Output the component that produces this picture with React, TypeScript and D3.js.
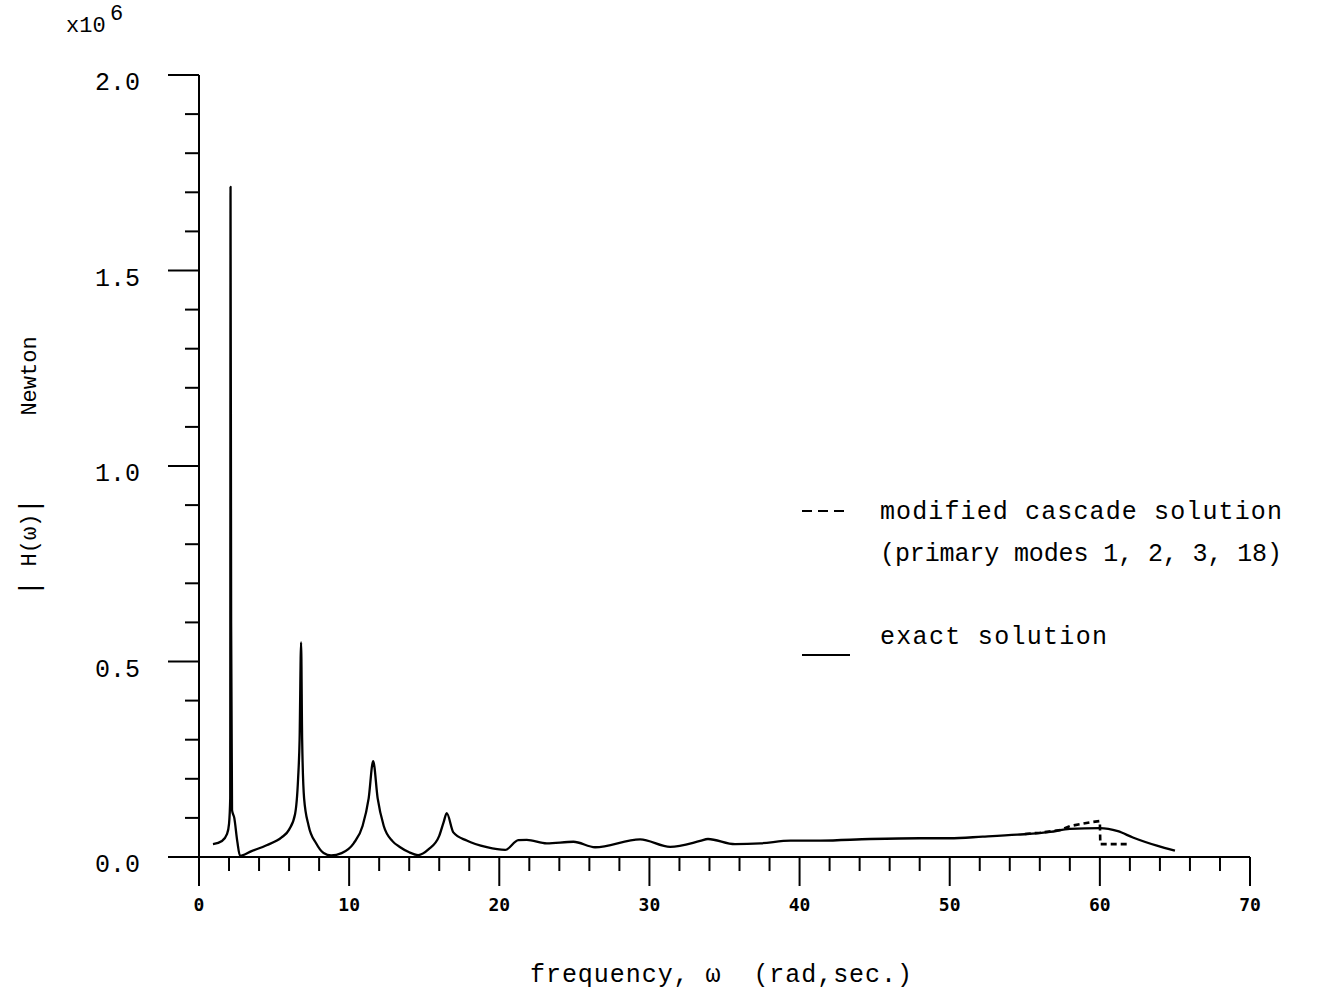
import React from "react";
import * as d3 from "d3";

const exactOmega = [0.93, 1.53, 1.87, 2.0, 2.08, 2.1, 2.14, 2.2, 2.35, 2.55, 2.73, 3.5, 4.5, 5.5, 6.0, 6.4, 6.6, 6.7, 6.8, 6.87, 7.0, 7.3, 7.8, 8.3, 8.8, 9.5, 10.3, 10.9, 11.3, 11.6, 11.9, 12.3, 12.9, 13.4, 14.0, 14.6, 15.3, 16.0, 16.3, 16.5, 16.94, 17.83, 19.17, 20.39, 21.27, 21.83, 23.16, 24.94, 26.38, 29.38, 31.38, 33.38, 33.9, 35.7, 37.4, 39.4, 41.4, 44.7, 48.0, 50.0, 52.2, 54.5, 56.7, 58.0, 60.0, 61.2, 62.2, 63.8, 65.0];
const exactH = [0.033, 0.041, 0.059, 0.085, 0.15, 1.714, 0.6, 0.12, 0.1, 0.04, 0.003, 0.015, 0.03, 0.05, 0.07, 0.11, 0.2, 0.3, 0.549, 0.3, 0.15, 0.08, 0.035, 0.01, 0.004, 0.01, 0.035, 0.08, 0.15, 0.245, 0.15, 0.08, 0.04, 0.025, 0.012, 0.005, 0.02, 0.054, 0.09, 0.112, 0.063, 0.042, 0.025, 0.018, 0.043, 0.044, 0.035, 0.039, 0.025, 0.045, 0.026, 0.041, 0.046, 0.033, 0.035, 0.042, 0.042, 0.046, 0.048, 0.048, 0.052, 0.057, 0.064, 0.072, 0.074, 0.066, 0.05, 0.029, 0.016];

const cascadeOmega = [55.0, 56.0, 57.4, 58.0, 59.4, 60.0, 60.03, 61.8];
const cascadeH = [0.059, 0.062, 0.069, 0.079, 0.089, 0.092, 0.033, 0.033];

const xTickLabels = ["0", "10", "20", "30", "40", "50", "60", "70"];
const yTickLabels = ["0.0", "0.5", "1.0", "1.5", "2.0"];

const W = 1330;
const H = 992;

export default function App() {
  const x = d3.scaleLinear().domain([0, 70]).range([199, 1250]);
  const y = d3.scaleLinear().domain([0, 2]).range([857, 75]);

  const exact = exactOmega.map((o, i) => [o, exactH[i]] as [number, number]);
  const cascade = cascadeOmega.map((o, i) => [o, cascadeH[i]] as [number, number]);

  const lineMono = d3
    .line<[number, number]>()
    .x((d) => x(d[0]))
    .y((d) => y(d[1]))
    .curve(d3.curveMonotoneX);
  const lineLin = d3
    .line<[number, number]>()
    .x((d) => x(d[0]))
    .y((d) => y(d[1]));

  const xMinor = d3.range(0, 71, 2);
  const yMinor = d3.range(0, 20.01, 1).map((v) => v / 10);

  const mono = "'Liberation Mono', 'DejaVu Sans Mono', monospace";
  const tickFont = "'DejaVu Sans Mono', monospace";

  return (
    <svg
      width={W}
      height={H}
      style={{ position: "absolute", left: 0, top: 0, background: "#fff" }}
    >
      <rect x={0} y={0} width={W} height={H} fill="#fff" />
      {/* axes */}
      <line x1={x(0)} x2={x(70)} y1={y(0)} y2={y(0)} stroke="#000" strokeWidth={2} />
      <line x1={x(0)} x2={x(0)} y1={y(2)} y2={y(0)} stroke="#000" strokeWidth={2} />
      {/* x ticks */}
      {xMinor.map((v) => {
        const major = v % 10 === 0;
        return (
          <line
            key={"xt" + v}
            x1={x(v)}
            x2={x(v)}
            y1={y(0)}
            y2={y(0) + (major ? 29 : 14)}
            stroke="#000"
            strokeWidth={2}
          />
        );
      })}
      {xTickLabels.map((t) => (
        <text
          key={"xl" + t}
          x={x(+t)}
          y={911}
          textAnchor="middle"
          fontFamily={tickFont}
          fontWeight="bold"
          fontSize={18}
        >
          {t}
        </text>
      ))}
      {/* y ticks */}
      {yMinor.map((v) => {
        const major = Math.round(v * 10) % 5 === 0;
        return (
          <line
            key={"yt" + v}
            x1={x(0) - (major ? 31 : 14)}
            x2={x(0)}
            y1={y(v)}
            y2={y(v)}
            stroke="#000"
            strokeWidth={2}
          />
        );
      })}
      {yTickLabels.map((t) => (
        <text
          key={"yl" + t}
          x={140}
          y={y(+t) + 15}
          textAnchor="end"
          fontFamily={mono}
          fontSize={25}
        >
          {t}
        </text>
      ))}
      {/* exponent */}
      <text x={66} y={32} fontFamily={mono} fontSize={22}>
        x10
      </text>
      <text x={110} y={20} fontFamily={mono} fontSize={22}>
        6
      </text>
      {/* y label */}
      <g transform="translate(36,0) rotate(-90)" fontFamily={mono} fontSize={22}>
        <text x={-376} y={0} textAnchor="middle">Newton</text>
        <text x={-540} y={0} textAnchor="middle">H(ω)</text>
        <text x={-506} y={2} textAnchor="middle" fontSize={28}>|</text>
        <text x={-588} y={2} textAnchor="middle" fontSize={28}>|</text>
      </g>
      {/* x label */}
      <text x={530} y={982} fontFamily={mono} fontSize={25} textLength={382} lengthAdjust="spacing" xmlSpace="preserve">
        {"frequency, ω  (rad,sec.)"}
      </text>
      {/* curves */}
      <path d={lineMono(exact) || ""} fill="none" stroke="#000" strokeWidth={2.3} strokeLinejoin="round" />
      <path
        d={lineLin(cascade) || ""}
        fill="none"
        stroke="#000"
        strokeWidth={2.6}
        strokeDasharray="6,4"
      />
      {/* legend */}
      <line x1={802} x2={848} y1={511} y2={511} stroke="#000" strokeWidth={2} strokeDasharray="10,6" />
      <text x={880} y={519} fontFamily={mono} fontSize={25} textLength={402} lengthAdjust="spacing">
        modified cascade solution
      </text>
      <text x={880} y={561} fontFamily={mono} fontSize={25} textLength={402} lengthAdjust="spacing">
        (primary modes 1, 2, 3, 18)
      </text>
      <line x1={802} x2={850} y1={655} y2={655} stroke="#000" strokeWidth={2} />
      <text x={880} y={644} fontFamily={mono} fontSize={25} textLength={227} lengthAdjust="spacing">
        exact solution
      </text>
    </svg>
  );
}
